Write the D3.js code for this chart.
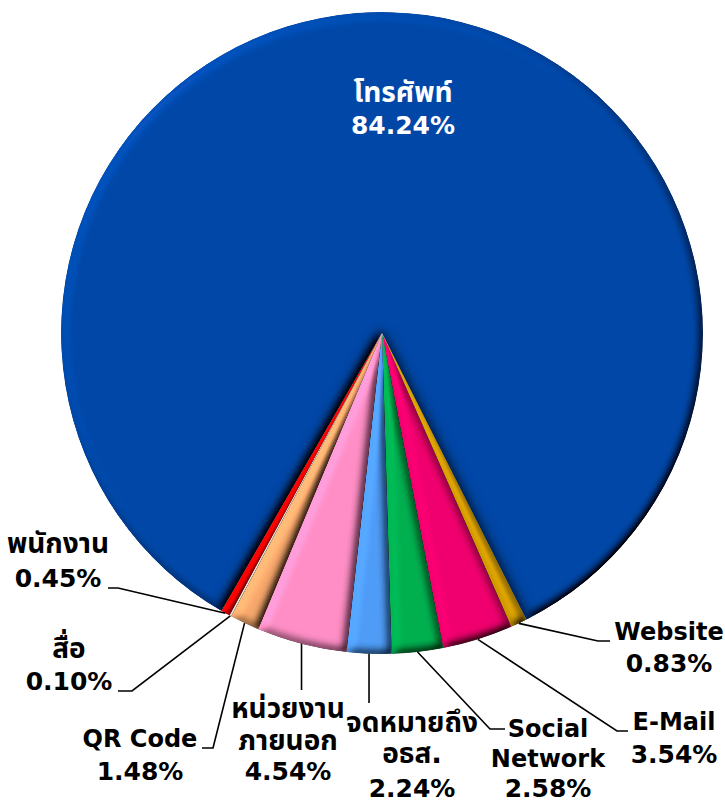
<!DOCTYPE html>
<html>
<head>
<meta charset="utf-8">
<script src="https://cdn.jsdelivr.net/npm/d3@7"></script>
<style>
body { margin: 0; background: #fff; }
text { font-family: "DejaVu Sans", "Noto Sans Thai", "Noto Sans", sans-serif; font-weight: bold; }
</style>
</head>
<body>
<div id="chart"></div>
<script>
// data, in the order Excel draws the slices (clockwise)
var categories = ["โทรศัพท์", "Website", "E-Mail", "Social Network", "จดหมายถึง อธส.", "หน่วยงานภายนอก", "QR Code", "สื่อ", "พนักงาน"];
var values = [84.24, 0.83, 3.54, 2.58, 2.24, 4.54, 1.48, 0.10, 0.45];
var labelLines = [["โทรศัพท์"], ["Website"], ["E-Mail"], ["Social", "Network"], ["จดหมายถึง", "อธส."], ["หน่วยงาน", "ภายนอก"], ["QR Code"], ["สื่อ"], ["พนักงาน"]];

var colours = ["#0548a8", "#d9a000", "#f0056e", "#00b050", "#4f9cf7", "#ff8ec6", "#f7a86c", "#ece4d4", "#ff0000"];

var width = 725, height = 804;
var cx = 382, cy = 333, radius = 321;

// label placement (text x, baselines, leader elbow and end)
var labelLayout = [
  { x: 403, ys: [102, 134], fill: "#fff" },
  { x: 669, ys: [640, 672], elbow: [598, 641], end: [610, 641] },
  { x: 674, ys: [730, 763], elbow: [617, 731], end: [628, 731] },
  { x: 548, ys: [737, 767, 797], elbow: [490, 729], end: [505, 729] },
  { x: 412, ys: [732, 763, 797], elbow: null, end: [null, 703] },
  { x: 288, ys: [718, 750, 780], elbow: null, end: [null, 690] },
  { x: 140, ys: [747, 780], elbow: [213, 748], end: [202, 748] },
  { x: 69, ys: [658, 690], elbow: [132, 691], end: [118, 691] },
  { x: 58, ys: [553, 587], elbow: [118, 588], end: [108, 588] }
];

var svg = d3.select("#chart").append("svg")
  .attr("width", width)
  .attr("height", height);

var defs = svg.append("defs");

// soft bevel, roughly like the Excel 3-D format on the slices
var f = defs.append("filter")
  .attr("id", "bevel")
  .attr("filterUnits", "userSpaceOnUse")
  .attr("x", -cx).attr("y", -cy).attr("width", width).attr("height", height);
f.append("feGaussianBlur").attr("in", "SourceAlpha").attr("stdDeviation", 5).attr("result", "blur");
f.append("feDiffuseLighting")
  .attr("in", "blur").attr("surfaceScale", 7).attr("diffuseConstant", 0.8)
  .attr("lighting-color", "#fff").attr("result", "diff")
  .append("feDistantLight").attr("azimuth", 225).attr("elevation", 50);
f.append("feComposite")
  .attr("in", "SourceGraphic").attr("in2", "diff")
  .attr("operator", "arithmetic").attr("k1", 1.63).attr("k2", 0).attr("k3", 0).attr("k4", 0)
  .attr("result", "shaded");
f.append("feComposite").attr("in", "shaded").attr("in2", "SourceAlpha").attr("operator", "in");

// shadow the small slices throw onto the big one
defs.append("filter")
  .attr("id", "shadow")
  .attr("filterUnits", "userSpaceOnUse")
  .attr("x", -cx).attr("y", -cy).attr("width", width).attr("height", height)
  .append("feGaussianBlur").attr("stdDeviation", 8);

defs.append("clipPath").attr("id", "pieClip")
  .append("circle").attr("r", radius);

var pie = d3.pie()
  .sort(null)
  .value(function(d) { return d; })
  .startAngle(210 * Math.PI / 180)
  .endAngle(570 * Math.PI / 180);

var arcs = pie(values);

var arc = d3.arc().innerRadius(0).outerRadius(radius);

var g = svg.append("g").attr("transform", "translate(" + cx + "," + cy + ")");

g.append("path")
  .attr("class", "slice")
  .attr("d", arc(arcs[0]))
  .attr("fill", colours[0])
  .attr("filter", "url(#bevel)");

g.append("g")
  .attr("clip-path", "url(#pieClip)")
  .append("path")
  .attr("d", arc({ startAngle: arcs[1].startAngle, endAngle: arcs[arcs.length - 1].endAngle }))
  .attr("fill", "#000")
  .attr("opacity", 0.85)
  .attr("filter", "url(#shadow)");

g.selectAll("path.small")
  .data(arcs.slice(1))
  .enter()
  .append("path")
  .attr("class", "small")
  .attr("d", arc)
  .attr("fill", function(d, i) { return colours[i + 1]; })
  .attr("filter", "url(#bevel)");

// leader lines
var lines = svg.append("g");
arcs.forEach(function(d, i) {
  var L = labelLayout[i];
  if (!L.end) return;
  var a = (d.startAngle + d.endAngle) / 2;
  var p0 = [cx + radius * Math.sin(a), cy - radius * Math.cos(a)];
  var pts = [p0];
  if (L.elbow) {
    pts.push(L.elbow);
    pts.push(L.end);
  } else {
    pts.push([p0[0], L.end[1]]);
  }
  lines.append("path")
    .attr("d", d3.line()(pts))
    .attr("fill", "none")
    .attr("stroke", "#000")
    .attr("stroke-width", 1.6);
});

// labels (Thai glyphs run small in the fallback font, so bump them)
var fmt = d3.format(".2f");
var thai = /[\u0E00-\u0E7F]/;
var labels = svg.append("g");
arcs.forEach(function(d, i) {
  var L = labelLayout[i];
  var rows = labelLines[i].concat([fmt(values[i]) + "%"]);
  rows.forEach(function(t, j) {
    var last = j === rows.length - 1;
    labels.append("text")
      .attr("x", L.x)
      .attr("y", L.ys[j])
      .attr("text-anchor", "middle")
      .attr("font-size", thai.test(t) ? "28px" : (last ? "25px" : "24px"))
      .attr("fill", L.fill || "#000")
      .text(t);
  });
});
</script>
</body>
</html>
